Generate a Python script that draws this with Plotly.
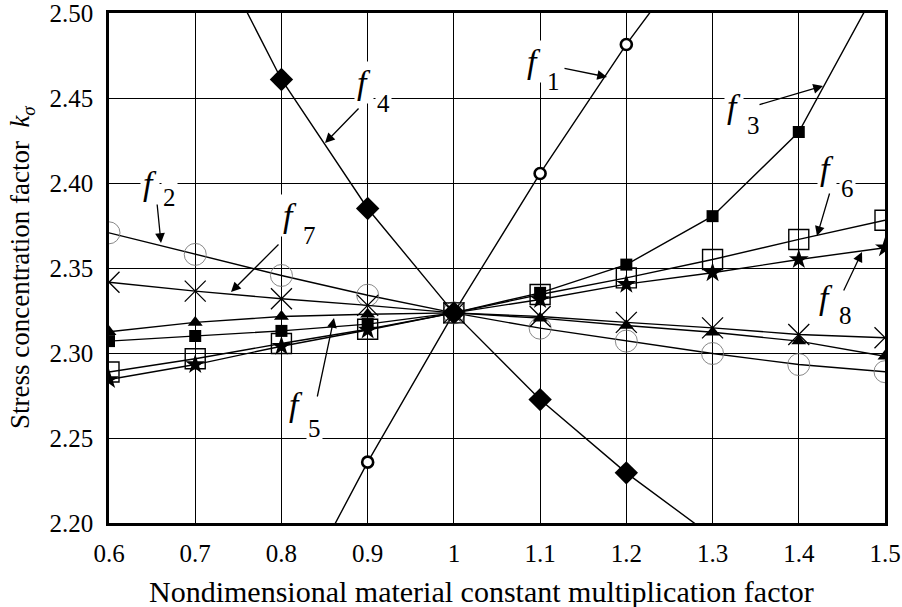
import plotly.graph_objects as go

# ---------------- data ----------------
x_vals = [0.6, 0.7, 0.8, 0.9, 1.0, 1.1, 1.2, 1.3, 1.4, 1.5]

f1_x = [0.8, 0.9, 1.0, 1.1, 1.2, 1.3]
f1_y = [2.140, 2.2358, 2.3236, 2.4056, 2.4815, 2.550]

f4_x = [0.7, 0.8, 0.9, 1.0, 1.1, 1.2, 1.3]
f4_y = [2.560, 2.4609, 2.385, 2.3236, 2.2726, 2.2295, 2.192]

f2_y = [2.3707, 2.3580, 2.3456, 2.3340, 2.3236, 2.3146, 2.3070, 2.2997, 2.2932, 2.2890]
f3_y = [2.3070, 2.3100, 2.3130, 2.3170, 2.3236, 2.3354, 2.3520, 2.3805, 2.4300, 2.5230]
f5_y = [2.3125, 2.3180, 2.3215, 2.3228, 2.3236, 2.3205, 2.3162, 2.3122, 2.3070, 2.2981]
f6_y = [2.2888, 2.2966, 2.3056, 2.3140, 2.3236, 2.3344, 2.3442, 2.3550, 2.3668, 2.3781]
f7_y = [2.3416, 2.3364, 2.3319, 2.3280, 2.3236, 2.3215, 2.3180, 2.3148, 2.3109, 2.3090]
f8_y = [2.2844, 2.2932, 2.3040, 2.3135, 2.3236, 2.3315, 2.3405, 2.3472, 2.3550, 2.3619]

x_ticks = [0.6, 0.7, 0.8, 0.9, 1.0, 1.1, 1.2, 1.3, 1.4, 1.5]
x_ticklabels = ["0.6", "0.7", "0.8", "0.9", "1", "1.1", "1.2", "1.3", "1.4", "1.5"]
y_ticks = [2.20, 2.25, 2.30, 2.35, 2.40, 2.45, 2.50]
y_ticklabels = ["2.20", "2.25", "2.30", "2.35", "2.40", "2.45", "2.50"]

x_title = "Nondimensional material constant multiplication factor"
y_title = "Stress concentration factor  <i>k</i><sub><i>σ</i></sub>"

# ---------------- figure ----------------
W, H = 902, 607
ML, MR, MT, MB = 109, 17, 13, 84
FONT = "Liberation Serif, Times New Roman, serif"

fig = go.Figure()

LINE = dict(color="black", width=1.4)

def add(xs, ys, marker):
    fig.add_trace(go.Scatter(x=xs, y=ys, mode="lines+markers", line=LINE,
                             marker=marker, showlegend=False, cliponaxis=True))

add(f1_x, f1_y, dict(symbol="circle", size=11, color="white",
                     line=dict(color="black", width=2.6)))
add(f4_x, f4_y, dict(symbol="diamond", size=18, color="black"))
add(x_vals, f2_y, dict(symbol="circle-open", size=22, color="#7a7a7a",
                       line=dict(color="#7a7a7a", width=0.9)))
add(x_vals, f7_y, dict(symbol="x-thin-open", size=21, color="black",
                       line=dict(color="black", width=1.3)))
add(x_vals, f6_y, dict(symbol="square-open", size=20, color="black",
                       line=dict(color="black", width=1.4)))
add(x_vals, f3_y, dict(symbol="square", size=12, color="black"))
add(x_vals, f5_y, dict(symbol="triangle-up", size=13, color="black"))
add(x_vals, f8_y, dict(symbol="star", size=15, color="black"))

# pixel -> paper helper for label placement
PX0, PX1 = ML, W - MR
PY0, PY1 = H - MB, MT

def pp(px, py):
    return (px - PX0) / (PX1 - PX0), (PY0 - py) / (PY0 - PY1)

annotations = []

# curve labels: (f centre px, digit, digit centre px)
labels = [
    ((534, 62), "1", (553, 82)),
    ((364, 83), "4", (383, 103)),
    ((734, 106), "3", (753, 125)),
    ((827, 168), "6", (847, 188)),
    ((826, 297), "8", (845, 315)),
    ((150, 183), "2", (169, 197)),
    ((290, 215), "7", (309, 235)),
    ((296, 405), "5", (314, 428)),
]
for (fx, fy), d, (dx, dy) in labels:
    px_, py_ = pp(fx, fy)
    annotations.append(dict(x=px_, y=py_, xref="paper", yref="paper",
                            text="<i>f</i>", showarrow=False,
                            font=dict(family=FONT, size=34, color="black"),
                            bgcolor="white", borderpad=2,
                            xanchor="center", yanchor="middle"))
    px_, py_ = pp(dx, dy)
    annotations.append(dict(x=px_, y=py_, xref="paper", yref="paper",
                            text=d, showarrow=False,
                            font=dict(family=FONT, size=25, color="black"),
                            bgcolor="white", borderpad=1,
                            xanchor="center", yanchor="middle"))

# arrows: (tail px, head px)
arrows = [
    ((563, 68), (607, 77)),
    ((360, 107), (325, 143)),
    ((758, 105), (823, 86)),
    ((830, 192), (817, 236)),
    ((843, 292), (862, 252)),
    ((157, 203), (161, 243)),
    ((280, 243), (231, 292)),
    ((317, 398), (334, 318)),
]
for (tx, ty), (hx, hy) in arrows:
    px_, py_ = pp(hx, hy)
    annotations.append(dict(x=px_, y=py_, xref="paper", yref="paper",
                            ax=tx - hx, ay=ty - hy, axref="pixel", ayref="pixel",
                            text="", showarrow=True, arrowhead=2, arrowsize=1.5,
                            arrowwidth=1.3, arrowcolor="black", standoff=0,
                            startstandoff=0))

# axis titles
px_, py_ = pp(481, 591)
annotations.append(dict(x=px_, y=py_, xref="paper", yref="paper", text=x_title,
                        showarrow=False, xanchor="center", yanchor="middle",
                        font=dict(family=FONT, size=30, color="black")))
px_, py_ = pp(22, 268)
annotations.append(dict(x=px_, y=py_, xref="paper", yref="paper", text=y_title,
                        showarrow=False, xanchor="center", yanchor="middle",
                        textangle=-90,
                        font=dict(family=FONT, size=27, color="black")))

fig.update_layout(
    width=W, height=H,
    margin=dict(l=ML, r=MR, t=MT, b=MB, autoexpand=False),
    paper_bgcolor="white", plot_bgcolor="white",
    font=dict(family=FONT, color="black"),
    annotations=annotations,
)
fig.update_xaxes(range=[0.6, 1.5], tickvals=x_ticks, ticktext=x_ticklabels,
                 showgrid=True, gridcolor="black", gridwidth=1.3,
                 showline=True, mirror=True, linecolor="black", linewidth=2.5,
                 ticks="", ticklabelstandoff=6, zeroline=False, automargin=False,
                 ticklabeloverflow="allow",
                 tickfont=dict(family=FONT, size=25, color="black"))
fig.update_yaxes(range=[2.20, 2.50], tickvals=y_ticks, ticktext=y_ticklabels,
                 showgrid=True, gridcolor="black", gridwidth=1.3,
                 showline=True, mirror=True, linecolor="black", linewidth=2.5,
                 ticks="", ticklabelstandoff=8, zeroline=False, automargin=False,
                 ticklabeloverflow="allow",
                 tickfont=dict(family=FONT, size=25, color="black"))

fig.write_html("out.html")
